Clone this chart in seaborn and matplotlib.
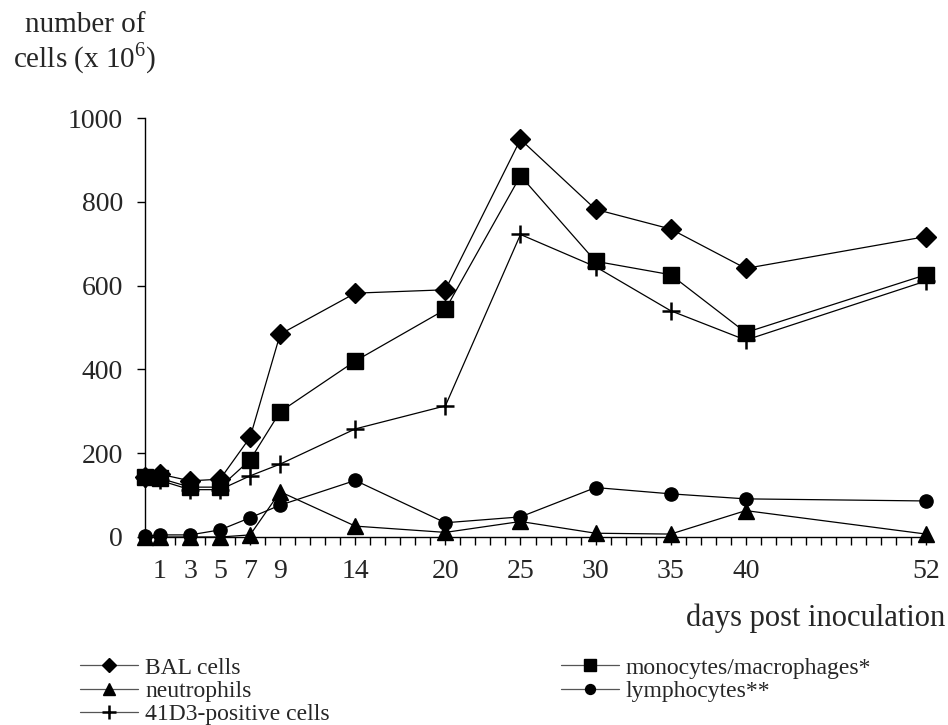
import matplotlib
matplotlib.use("Agg")
import matplotlib.pyplot as plt
import seaborn as sns
import pandas as pd
from matplotlib.ticker import FixedLocator, MultipleLocator

sns.set_style("white")
plt.rcParams['font.family'] = ['Liberation Serif', 'DejaVu Serif']
plt.rcParams['mathtext.fontset'] = 'custom'
plt.rcParams['mathtext.rm'] = 'Liberation Serif'

days = [0, 1, 3, 5, 7, 9, 14, 20, 25, 30, 35, 40, 52]
bal = [143, 150, 134, 138, 238, 484, 582, 590, 949, 782, 735, 641, 717]
mono = [143, 140, 119, 119, 184, 299, 420, 543, 862, 658, 626, 488, 626]
neutro = [0, 0, 0, 0, 5, 108, 26, 11, 37, 9, 7, 63, 7]
lympho = [2, 5, 5, 17, 46, 76, 135, 34, 48, 118, 103, 91, 86]
pos41d3 = [140, 135, 113, 113, 146, 174, 258, 313, 722, 645, 540, 470, 611]

labels = ["BAL cells", "neutrophils", "41D3-positive cells",
          "monocytes/macrophages*", "lymphocytes**"]
xtick_labels = [1, 3, 5, 7, 9, 14, 20, 25, 30, 35, 40, 52]
yticks = [0, 200, 400, 600, 800, 1000]

series = [
    (labels[0], bal, 'D', 10, 1.0),
    (labels[1], neutro, '^', 11, 1.0),
    (labels[2], pos41d3, '+', 13, 1.8),
    (labels[3], mono, 's', 11.5, 1.0),
    (labels[4], lympho, 'o', 9.5, 1.0),
]

fig = plt.figure(figsize=(9.48, 7.25), dpi=100)
ax = fig.add_axes([145/948, 1-537/725, 781/948, 419/725])

for name, vals, mk, ms, mew in series:
    df = pd.DataFrame({"day": days, "value": vals})
    sns.lineplot(data=df, x="day", y="value", ax=ax, color="black",
                 linewidth=0.9, marker=mk, markersize=ms, markeredgewidth=mew,
                 markeredgecolor="black", markerfacecolor="black",
                 label=name, clip_on=False, zorder=3)

ax.set_xlim(0, 52)
ax.set_ylim(0, 1000)
ax.set_xlabel("")
ax.set_ylabel("")
for s in ["top", "right"]:
    ax.spines[s].set_visible(False)
for s in ["left", "bottom"]:
    ax.spines[s].set_color("black")
    ax.spines[s].set_linewidth(1.0)

ax.xaxis.set_major_locator(FixedLocator(xtick_labels))
ax.set_xticklabels([str(v) for v in xtick_labels])
ax.xaxis.set_minor_locator(MultipleLocator(1))
ax.set_yticks(yticks)
ax.set_yticklabels([str(v) for v in yticks])
ax.tick_params(axis="x", which="both", direction="out", length=6, width=1,
               color="black", bottom=True, labelsize=20, pad=10)
ax.tick_params(axis="y", which="major", direction="out", length=6, width=1,
               color="black", left=True, labelsize=20, pad=10)

fig.text(85/948, 1-32/725, "number of", ha="center", va="baseline", fontsize=21)
fig.text(85/948, 1-67/725, r"cells (x 10$^{\mathregular{6}}$)", ha="center",
         va="baseline", fontsize=21)
fig.text(945/948, 1-626/725, "days post inoculation", ha="right",
         va="baseline", fontsize=22)

handles, labs = ax.get_legend_handles_labels()
if ax.get_legend():
    ax.get_legend().remove()
leg = fig.legend(handles, labs, ncol=2, loc="upper left",
                 bbox_to_anchor=(80/948, 1-657/725), frameon=False,
                 fontsize=17, markerscale=0.75, handlelength=2.45,
                 handletextpad=0.3, labelspacing=0.08, columnspacing=9.8,
                 borderpad=0.0, borderaxespad=0.0)
for h in leg.legend_handles:
    h.set_color("#555555")
    h.set_markerfacecolor("black")
    h.set_markeredgecolor("black")

fig.savefig("out.png", dpi=100)
